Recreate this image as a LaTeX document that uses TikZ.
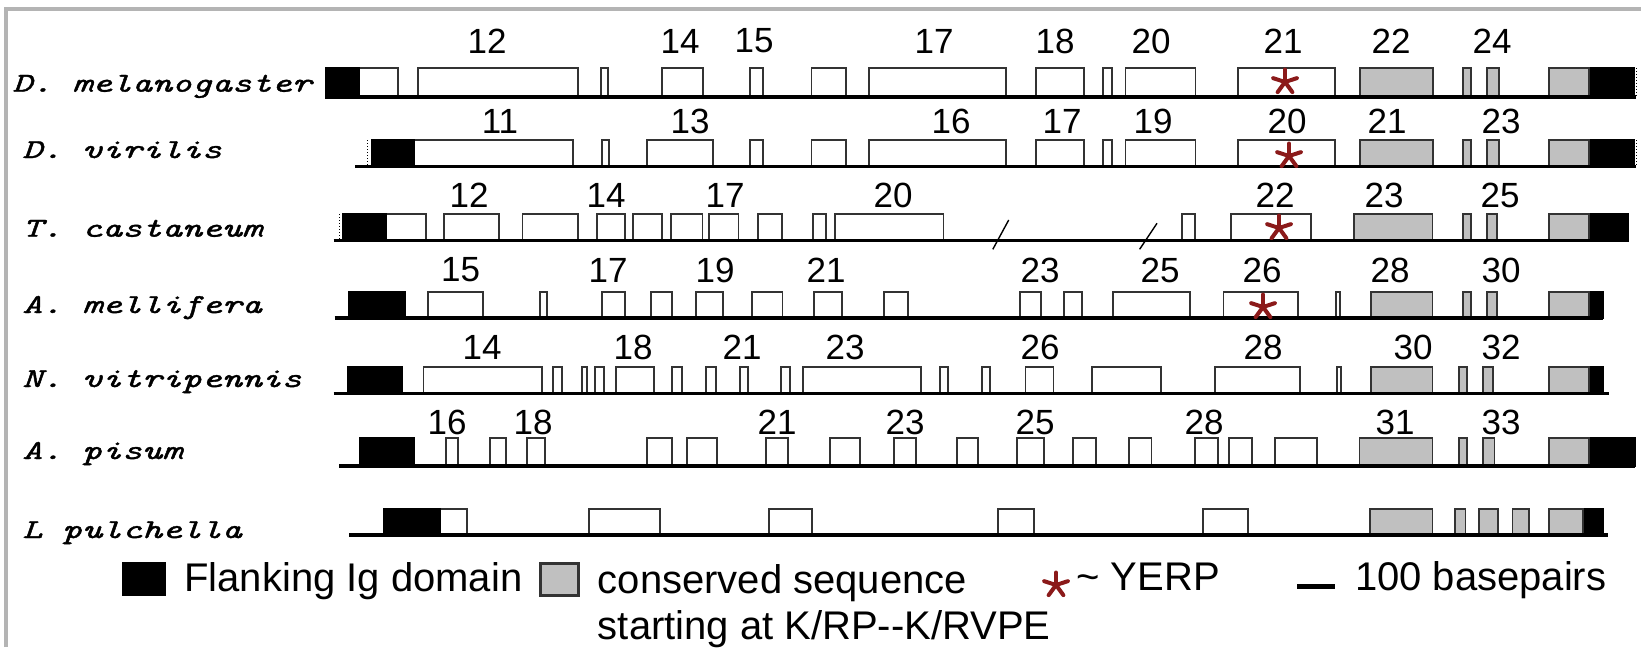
\documentclass[tikz,border=0pt]{standalone}
\usepackage{fontspec}
\setmainfont{Liberation Sans}
\newfontfamily\speciesfont{lmmono10-italic}[Extension=.otf, FakeBold=1.3]
\usepackage{graphicx}
\usepackage{tikz}
\usetikzlibrary{positioning}
\definecolor{yerpred}{HTML}{8B1A1A}
\definecolor{consgray}{HTML}{C0C0C0}
\definecolor{framegray}{HTML}{B4B4B4}

% row of blocks: style, top, base, list of left/right
\newcommand{\blocks}[4]{\foreach \xl/\xr in {#4} \draw[#1] (\xl,#2) rectangle (\xr,#3);}
\newcommand{\squash}[1]{\scalebox{1}[0.72]{#1}}

\tikzset{
  yerp/.pic={\foreach \ang in {-90,-18,-162,54,126}
    \draw[yerpred, line width=2pt, line cap=round] (0,0) -- (\ang:12.5);}
}

\begin{document}
\begin{tikzpicture}[
  x=0.5pt, y=-0.5pt,
  exon/.style={draw=black!80, line width=0.9pt, fill=white},
  ig/.style={draw=black, line width=0.9pt, fill=black},
  cons/.style={draw=black!80, line width=0.9pt, fill=consgray},
  spine/.style={line width=1.7pt},
  cut/.style={densely dotted, line width=0.5pt},
  brk/.style={line width=0.7pt},
  num/.style={font=\fontsize{17.5}{20}\selectfont, inner sep=0pt},
  species/.style={font=\fontsize{19}{22}\speciesfont,
    anchor=base west, inner sep=0pt},
  legend/.style={font=\fontsize{20}{23}\selectfont, anchor=base west,
    inner sep=0pt, align=left},
]
\useasboundingbox (0,0) rectangle (1641,647);
\draw[framegray, line width=2pt] (6,647) -- (6,9) -- (1641,9);

% D. melanogaster
\node[species] (mel) at (12,91.7) {\squash{D. melanogaster}};
\blocks{exon}{68}{97}{325.6/398, 418/578, 601/608, 662/703, 750/763,
  811.5/846, 869/1006, 1036/1084, 1103/1112, 1125.5/1195.5, 1238/1335}
\blocks{ig}{68}{97}{325.6/359, 1589/1634}
\blocks{cons}{68}{97}{1360/1433, 1463/1471, 1487/1499, 1549/1589}
\draw[cut] (1636,68) -- (1636,97);
\draw[spine] (325,97) -- (1636,97);
\pic at (1285,82) {yerp};
\foreach \n/\x in {12/487, 14/680, 15/754, 17/934, 18/1055, 20/1151,
  21/1283, 22/1391, 24/1492}
  \node[num] (mel-\n) at (\x,41) {\n};

% D. virilis
\node[species] (vir) at (22,158) {\squash{D. virilis}};
\blocks{exon}{140}{166.5}{372/573, 602/609, 647/713, 750/763, 811.5/846,
  869/1006, 1036/1084, 1103/1112, 1125.5/1195.5, 1238/1335}
\blocks{ig}{140}{166.5}{372/414.5, 1589/1634}
\blocks{cons}{140}{166.5}{1360/1433, 1463/1471, 1487/1499, 1549/1589}
\draw[cut] (367,140) -- (367,166.5);
\draw[cut] (1636,140) -- (1636,166.5);
\draw[spine] (355,166.5) -- (1636,166.5);
\pic at (1289,156) {yerp};
\foreach \n/\x in {11/500, 13/690, 16/951, 17/1062, 19/1153, 20/1287,
  21/1387, 23/1501}
  \node[num] (vir-\n) at (\x,121) {\n};

% T. castaneum
\node[species] (cas) at (22,236.7) {\squash{T. castaneum}};
\blocks{exon}{214}{240.7}{343/426, 443.6/499, 522.5/578, 596.6/624.7,
  632.6/661.7, 670.7/702.5, 709/738.5, 758/782, 812.6/826, 835/943.4,
  1182/1195, 1231/1311}
\blocks{ig}{214}{240.7}{343/386.5, 1589/1628}
\blocks{cons}{214}{240.7}{1353.7/1432.5, 1463/1471, 1487/1497, 1549/1589}
\draw[cut] (339,214) -- (339,240.7);
\draw[spine] (333.5,240.7) -- (1629,240.7);
\draw[brk] (992.8,249.3) -- (1008.7,220);
\draw[brk] (1139.6,249.3) -- (1157,223.3);
\pic at (1279,228) {yerp};
\foreach \n/\x in {12/469, 14/606, 17/725, 20/893, 22/1275, 23/1384, 25/1500}
  \node[num] (cas-\n) at (\x,195) {\n};

% A. mellifera
\node[species] (mef) at (22,313) {\squash{A. mellifera}};
\blocks{exon}{292}{318}{427.7/482.8, 540/547, 602/625, 651/672, 696/722.6,
  751.7/782.4, 814/842, 884/908, 1020/1041, 1064/1081.6, 1113/1189.6,
  1223.5/1297.6, 1336/1339.6}
\blocks{ig}{292}{318}{349/405, 1589/1603}
\blocks{cons}{292}{318}{1371/1432.5, 1463/1471, 1487/1497, 1549/1589}
\draw[spine] (334.6,318) -- (1603,318);
\pic at (1263,307) {yerp};
\foreach \n/\x in {15/460.5, 17/608, 19/715, 21/826, 23/1040, 25/1160,
  26/1262, 28/1390, 30/1501}
  \node[num] (mef-\n) at (\x,270) {\n};

% N. vitripennis
\node[species] (vit) at (22,387) {\squash{N. vitripennis}};
\blocks{exon}{366.7}{393.5}{423.5/541.7, 553/561.7, 581.7/586.7, 595/604,
  615.7/654.3, 671.7/682.3, 705.7/715.7, 740/748.3, 781/790, 803/921,
  939.7/947.6, 982/990, 1025.5/1053.5, 1091.6/1161, 1215/1299.7,
  1336.7/1341}
\blocks{ig}{366.7}{393.5}{348/402, 1589/1603}
\blocks{cons}{366.7}{393.5}{1371/1432.5, 1459/1467, 1483/1493, 1549/1589}
\draw[spine] (333.5,393.5) -- (1609,393.5);
\foreach \n/\x in {14/482, 18/633, 21/742, 23/845, 26/1040, 28/1263,
  30/1413, 32/1501}
  \node[num] (vit-\n) at (\x,347) {\n};

% A. pisum
\node[species] (pis) at (22,459) {\squash{A. pisum}};
\blocks{exon}{438}{466}{446/458, 489.7/505.6, 526.7/545, 647/672,
  687/716.7, 765.7/787.7, 830/860, 894/916, 957/978, 1017/1044,
  1073/1096, 1129/1151.5, 1195/1217.6, 1229/1252, 1275/1317}
\blocks{ig}{438}{466}{360/414.5, 1589/1635}
\blocks{cons}{438}{466}{1359.5/1432.5, 1459/1467, 1483/1494.5, 1549/1589}
\draw[spine] (339,466) -- (1635,466);
\foreach \n/\x in {16/447, 18/533, 21/777, 23/905, 25/1035, 28/1204,
  31/1395, 33/1501}
  \node[num] (pis-\n) at (\x,422) {\n};

% L pulchella
\node[species] (pul) at (22,538) {\squash{L pulchella}};
\blocks{exon}{509}{535}{383.8/467, 588.7/660, 768.7/811.6, 998/1034,
  1203/1248}
\blocks{ig}{509}{535}{383.8/440.5, 1583/1603}
\blocks{cons}{509}{535}{1370/1432.5, 1455/1465.5, 1479/1498, 1512.5/1529,
  1549/1583}
\draw[spine] (349.4,535) -- (1608,535);

% Legend
\draw[ig] (123,563) rectangle (165,595);
\node[legend] (flank) at (184,591.7) {Flanking Ig domain};
\draw[cons, line width=1.5pt] (540,563) rectangle (578,595);
\node[legend, anchor=north west] (conserved) at (597.5,564.5)
  {conserved sequence\\starting at K/RP-{}-K/RVPE};
\pic at (1056,585) {yerp};
\node[legend] (yerp) at (1076,590) {\textasciitilde{} YERP};
\draw[line width=2.5pt] (1297,586.7) -- (1335,586.7);
\node[legend] (bp) at (1354.6,590) {100 basepairs};

\end{tikzpicture}
\end{document}
